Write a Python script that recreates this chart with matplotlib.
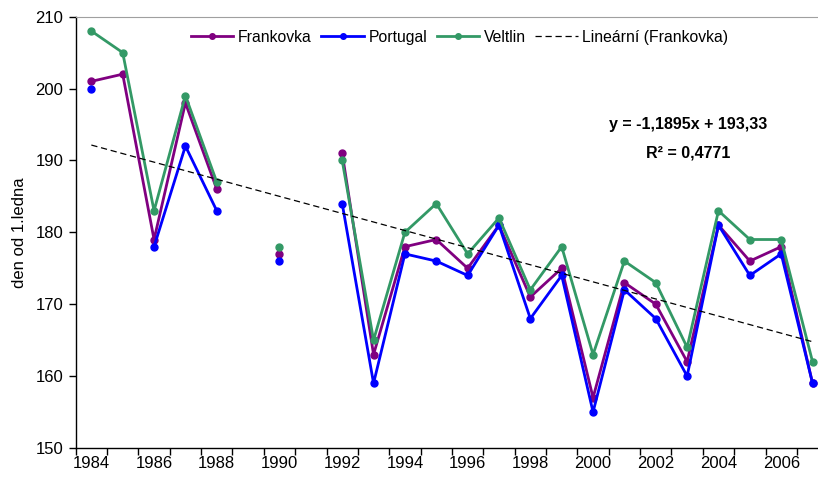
import numpy as np
import matplotlib.pyplot as plt

plt.rcParams['font.family'] = ['Liberation Sans', 'DejaVu Sans']

nan = np.nan
years = np.arange(1984, 2008)
frankovka = [201, 202, 179, 198, 186, nan, 177, nan, 191, 163, 178, 179,
             175, 181, 171, 175, 157, 173, 170, 162, 181, 176, 178, 159]
portugal = [200, nan, 178, 192, 183, nan, 176, nan, 184, 159, 177, 176,
            174, 181, 168, 174, 155, 172, 168, 160, 181, 174, 177, 159]
veltlin = [208, 205, 183, 199, 187, nan, 178, nan, 190, 165, 180, 184,
           177, 182, 172, 178, 163, 176, 173, 164, 183, 179, 179, 162]

# Excel trendline (x = 1..n)
slope, intercept, r2 = -1.1895, 193.33, 0.4771
trend = slope * np.arange(1, len(years) + 1) + intercept

fs = 12

fig = plt.figure(figsize=(8.18, 4.83), dpi=100)
ax = fig.add_axes([0.0925, 0.0725, 0.92, 0.893])

ax.plot(years, frankovka, color='#800080', lw=2, marker='o', ms=5, label='Frankovka')
ax.plot(years, portugal, color='#0000FF', lw=2, marker='o', ms=5, label='Portugal')
ax.plot(years, veltlin, color='#339966', lw=2, marker='o', ms=5, label='Veltlin')
ax.plot(years, trend, color='black', lw=0.9, ls=(0, (5, 3)), label='Lineární (Frankovka)')

ax.set_xlim(1983.5, 2007.5)
ax.set_ylim(150, 210)
ax.set_yticks(np.arange(150, 211, 10))
ax.set_xticks(np.arange(1983.5, 2008, 1))
ax.set_xticklabels([])
ax.set_xticks(np.arange(1984, 2008, 2), minor=True)
ax.set_xticklabels([str(y) for y in range(1984, 2008, 2)], minor=True)
ax.tick_params(axis='x', which='major', length=5, width=1)
ax.tick_params(axis='x', which='minor', length=0, labelsize=fs, pad=6)
ax.tick_params(axis='y', length=5, width=1, labelsize=fs, pad=4)

ax.spines['right'].set_visible(False)
ax.spines['top'].set_color('#a0a0a0')
ax.spines['left'].set_linewidth(1)
ax.spines['bottom'].set_linewidth(1)

ax.set_ylabel('den od 1.ledna', fontsize=fs, labelpad=6)

fig.legend(loc='center', bbox_to_anchor=(0.562, 0.923), ncol=4, frameon=False,
           fontsize=11.3, handlelength=2.7, columnspacing=0.6, handletextpad=0.3,
           markerscale=0.8)

fig.text(0.841, 0.743, 'y = -1,1895x + 193,33', ha='center', va='center',
         fontsize=11.5, fontweight='bold')
fig.text(0.841, 0.683, 'R² = 0,4771', ha='center', va='center',
         fontsize=11.5, fontweight='bold')

fig.savefig('out.png', dpi=100)
